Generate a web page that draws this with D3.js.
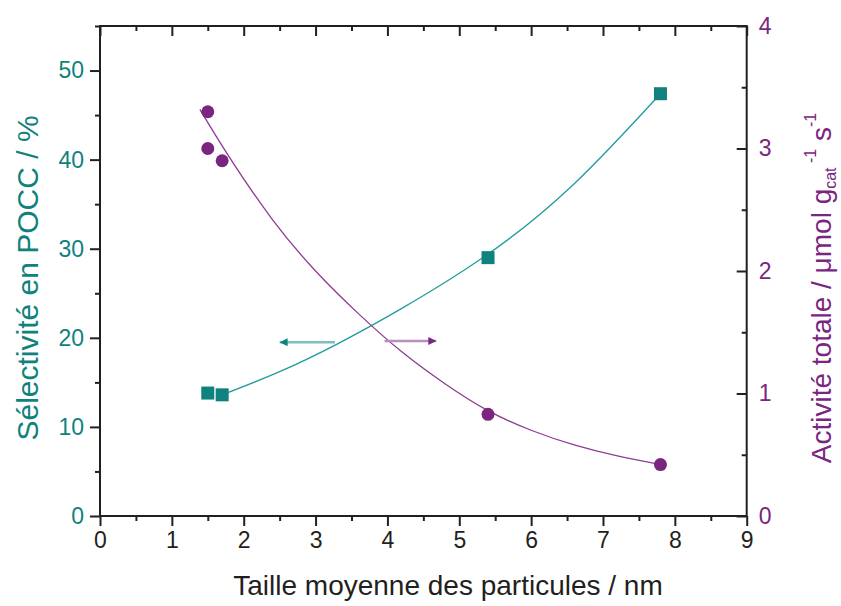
<!DOCTYPE html>
<html>
<head>
<meta charset="utf-8">
<script src="https://cdn.jsdelivr.net/npm/d3@7"></script>
<style>
  body { margin: 0; background: #fff; }
  svg { font-family: "Liberation Sans", Arial, sans-serif; }
</style>
</head>
<body>
<svg id="chart" width="841" height="606"></svg>
<script>
// measured points
const tailleSel = [1.5, 1.7, 5.4, 7.8];
const selectivite = [13.8, 13.6, 29.0, 47.4];
const tailleAct = [1.5, 1.5, 1.7, 5.4, 7.8];
const activite = [3.30, 3.00, 2.90, 0.83, 0.42];

// fitted curves
const fitSelX = [1.7, 2.5, 3.3, 4.2, 5.4, 6.6, 7.8];
const fitSelY = [13.6, 16.2, 19.3, 23.3, 29.4, 37.3, 47.4];
const fitActX = [1.39, 1.8, 2.4, 3.0, 3.6, 4.2, 4.8, 5.4, 6.0, 6.6, 7.2, 7.8];
const fitActY = [3.32, 2.93, 2.42, 2.00, 1.65, 1.34, 1.08, 0.86, 0.70, 0.58, 0.49, 0.42];

const xTicks = [0, 1, 2, 3, 4, 5, 6, 7, 8, 9];
const leftTicks = [0, 10, 20, 30, 40, 50];
const rightTicks = [0, 1, 2, 3, 4];

const teal = "#0f827d", tealLine = "#1f9c98", tealLight = "#7cc0bd";
const purple = "#7a2580", purpleLine = "#8e3c93", purpleLight = "#b98dbc";

const svg = d3.select("#chart");
const plotL = 100, plotR = 746.7, plotT = 26, plotB = 516;

const x = d3.scaleLinear().domain([0, 9]).range([plotL, plotR]);
const yL = d3.scaleLinear().domain([0, 55]).range([plotB, plotT]);
const yR = d3.scaleLinear().domain([0, 4]).range([plotB, plotT]);

function styleAxis(g, color) {
    g.select(".domain").remove();
    g.selectAll("line").attr("stroke", "#231f20").attr("stroke-width", 2);
    g.selectAll("text").attr("fill", color).style("font-size", "23px");
}

// bottom axis
const minorX = d3.range(0.5, 9, 1);
svg.append("g").attr("transform", `translate(0,${plotB})`)
    .call(d3.axisBottom(x).tickValues(xTicks).tickSize(10).tickPadding(6).tickFormat(d3.format("d")))
    .call(g => styleAxis(g, "#231f20"));
svg.append("g").attr("transform", `translate(0,${plotB})`)
    .call(d3.axisBottom(x).tickValues(minorX).tickSize(5).tickFormat(""))
    .call(g => styleAxis(g, "#231f20"));
// top axis (ticks inside)
svg.append("g").attr("transform", `translate(0,${plotT})`)
    .call(d3.axisBottom(x).tickValues(xTicks).tickSize(10).tickFormat(""))
    .call(g => styleAxis(g, "#231f20"));
svg.append("g").attr("transform", `translate(0,${plotT})`)
    .call(d3.axisBottom(x).tickValues(minorX).tickSize(5).tickFormat(""))
    .call(g => styleAxis(g, "#231f20"));

// left axis
svg.append("g").attr("transform", `translate(${plotL},0)`)
    .call(d3.axisLeft(yL).tickValues(leftTicks).tickSize(10).tickPadding(6))
    .call(g => styleAxis(g, teal));
svg.append("g").attr("transform", `translate(${plotL},0)`)
    .call(d3.axisLeft(yL).tickValues(d3.range(5, 56, 10)).tickSize(5).tickFormat(""))
    .call(g => styleAxis(g, teal));

// right axis (ticks inside, labels outside)
svg.append("g").attr("transform", `translate(${plotR},0)`)
    .call(d3.axisRight(yR).tickValues(rightTicks).tickSize(-10).tickPadding(12).tickFormat(d3.format("d")))
    .call(g => styleAxis(g, purple));
svg.append("g").attr("transform", `translate(${plotR},0)`)
    .call(d3.axisRight(yR).tickValues(d3.range(0.5, 4, 1)).tickSize(-5).tickFormat(""))
    .call(g => styleAxis(g, purple));

// frame
svg.append("rect")
    .attr("x", plotL).attr("y", plotT)
    .attr("width", plotR - plotL).attr("height", plotB - plotT)
    .attr("fill", "none").attr("stroke", "#231f20").attr("stroke-width", 2);

// fitted curves
const lineSel = d3.line().x(i => x(fitSelX[i])).y(i => yL(fitSelY[i])).curve(d3.curveNatural);
const lineAct = d3.line().x(i => x(fitActX[i])).y(i => yR(fitActY[i])).curve(d3.curveNatural);

svg.append("path").attr("d", lineSel(d3.range(fitSelX.length)))
    .attr("fill", "none").attr("stroke", tealLine).attr("stroke-width", 1.3);
svg.append("path").attr("d", lineAct(d3.range(fitActX.length)))
    .attr("fill", "none").attr("stroke", purpleLine).attr("stroke-width", 1.3);

// arrows
const defs = svg.append("defs");
[["headTeal", teal], ["headPurple", purple]].forEach(([id, c]) => {
    defs.append("marker")
        .attr("id", id)
        .attr("viewBox", "0 -5 10 10")
        .attr("refX", 10).attr("refY", 0)
        .attr("orient", "auto")
        .attr("markerUnits", "userSpaceOnUse")
        .attr("markerWidth", 14).attr("markerHeight", 8)
        .append("path")
        .attr("d", "M0,-5 L10,0 L0,5 Z")
        .attr("fill", c);
});
svg.append("line")
    .attr("x1", x(3.27)).attr("y1", yL(19.5))
    .attr("x2", x(2.5)).attr("y2", yL(19.5))
    .attr("stroke", tealLight).attr("stroke-width", 2.5)
    .attr("marker-end", "url(#headTeal)");
svg.append("line")
    .attr("x1", x(3.96)).attr("y1", yR(1.429))
    .attr("x2", x(4.68)).attr("y2", yR(1.429))
    .attr("stroke", purpleLight).attr("stroke-width", 2.5)
    .attr("marker-end", "url(#headPurple)");

// markers
svg.append("g").selectAll("rect")
    .data(d3.range(tailleSel.length))
    .enter().append("rect")
    .attr("x", i => x(tailleSel[i]) - 6.5)
    .attr("y", i => yL(selectivite[i]) - 6.5)
    .attr("width", 13).attr("height", 13)
    .attr("fill", teal);

svg.append("g").selectAll("circle")
    .data(d3.range(tailleAct.length))
    .enter().append("circle")
    .attr("cx", i => x(tailleAct[i]))
    .attr("cy", i => yR(activite[i]))
    .attr("r", 6.5)
    .attr("fill", purple);

// axis titles
svg.append("text")
    .attr("x", 448).attr("y", 595)
    .attr("text-anchor", "middle")
    .attr("fill", "#231f20")
    .style("font-size", "28px")
    .text("Taille moyenne des particules / nm");

svg.append("text")
    .attr("transform", "translate(38,278) rotate(-90)")
    .attr("text-anchor", "middle")
    .attr("fill", teal)
    .style("font-size", "30px")
    .text("Sélectivité en POCC / %");

const rt = svg.append("text")
    .attr("transform", "translate(831,288) rotate(-90)")
    .attr("text-anchor", "middle")
    .attr("fill", purple)
    .style("font-size", "28px");
rt.append("tspan").text("Activité totale / μmol g");
rt.append("tspan").attr("dy", 5).style("font-size", "16px").text("cat");
rt.append("tspan").attr("dy", -20).style("font-size", "16px").text(" -1");
rt.append("tspan").attr("dy", 15).text(" s");
rt.append("tspan").attr("dy", -15).style("font-size", "16px").text("-1");
</script>
</body>
</html>
